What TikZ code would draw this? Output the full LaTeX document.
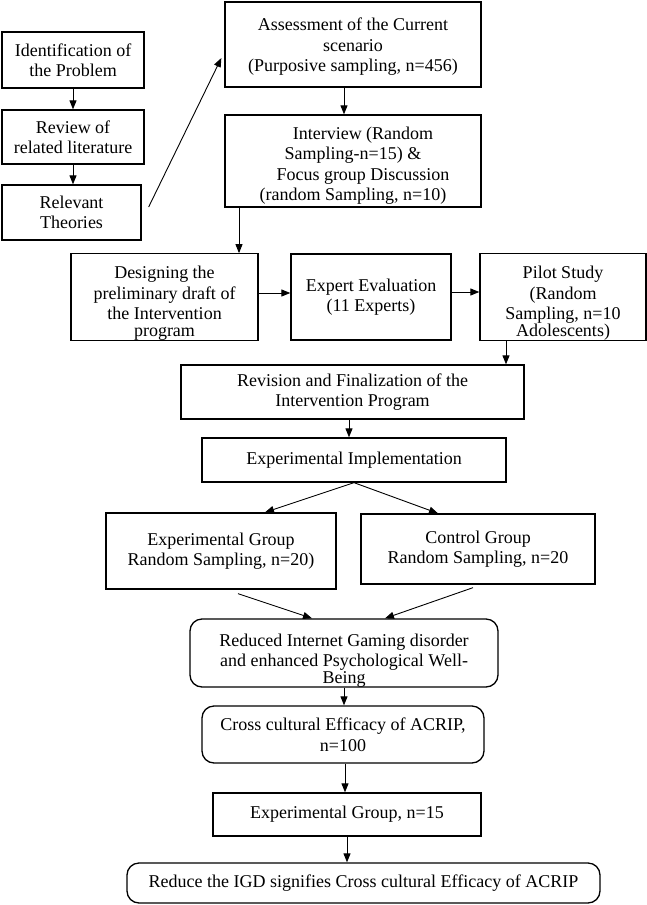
\documentclass[tikz,border=0pt]{standalone}
\usepackage{fontspec}
\setmainfont{Liberation Serif}
\usetikzlibrary{arrows.meta}
\tikzset{
  box/.style={draw, line width=1.3pt, inner sep=0pt, align=center,
    font=\fontsize{18}{20.5}\selectfont},
  rbox/.style={box, rounded corners=12pt},
  arr/.style={line width=0.9pt, -{Triangle[length=9pt,width=7pt]}},
}
\begin{document}
\begin{tikzpicture}[x=1pt,y=-1pt]
\useasboundingbox (0,0) rectangle (647,905);
\node[box, minimum width=142pt, minimum height=56pt] (ident) at (73,60) {Identification of\\the Problem};
\node[box, minimum width=142pt, minimum height=54pt] (review) at (73,137) {Review of\\related literature};
\node[box, minimum width=139pt, minimum height=55pt] (relevant) at (71.5,212.5) {Relevant\\Theories};
\node[box, minimum width=256pt, minimum height=85pt] (assess) at (353,44.5) {\rule{0pt}{17pt}Assessment of the Current\\scenario\\(Purposive sampling, n=456)};
\node[box, minimum width=256pt, minimum height=92pt] (interview) at (353,161) {\rule{0pt}{22pt}\hspace*{20pt}Interview (Random\\Sampling-n=15) \&\\\hspace*{20pt}Focus group Discussion\\(random Sampling, n=10)};
\node[box, minimum width=187pt, minimum height=86pt] (design) at (164.5,297) {\rule{0pt}{25pt}Designing the\\preliminary draft of\\the Intervention\\[-4pt]program};
\node[box, minimum width=160pt, minimum height=86pt] (expert) at (371,297) {Expert Evaluation\\(11 Experts)};
\node[box, minimum width=166pt, minimum height=86pt] (pilot) at (563,297) {\rule{0pt}{25pt}Pilot Study\\(Random\\Sampling, n=10\\[-4pt]Adolescents)};
\node[box, minimum width=343pt, minimum height=54pt] (revision) at (352.5,392) {Revision and Finalization of the\\Intervention Program};
\node[box, minimum width=304pt, minimum height=44pt] (impl) at (354,460) {Experimental Implementation};
\node[box, minimum width=230pt, minimum height=76pt] (expgrp) at (221,551) {Experimental Group\\Random Sampling, n=20)};
\node[box, minimum width=234pt, minimum height=70pt] (control) at (478,549) {Control Group\\Random Sampling, n=20};
\node[rbox, minimum width=308pt, minimum height=68pt] (reduced) at (344,653) {\rule{0pt}{27pt}Reduced Internet Gaming disorder\\and enhanced Psychological Well-\\[-4pt]Being};
\node[rbox, minimum width=282pt, minimum height=57pt] (cross) at (343,734.5) {Cross cultural Efficacy of ACRIP,\\n=100};
\node[box, minimum width=268pt, minimum height=43pt] (exp15) at (347,814.5) {Experimental Group, n=15};
\node[rbox, minimum width=473pt, minimum height=40pt] (igd) at (363.5,883) {Reduce the IGD signifies Cross cultural Efficacy of ACRIP};

\draw[arr] (ident.south) -- (ident.south |- review.north);
\draw[arr] (review.south) -- (review.south |- relevant.north);
\draw[arr] ([xshift=7pt,yshift=5.5pt]relevant.east) -- ([xshift=-3pt,yshift=-13.5pt]assess.west);
\draw[arr] ([xshift=-9pt]assess.south) -- ([xshift=-9pt]interview.north);
\draw[arr] ([xshift=-114pt]interview.south) -- ([xshift=-114pt]interview.south |- design.north);
\draw[arr] ([yshift=4pt]design.east) -- ([yshift=4pt]design.east -| expert.west);
\draw[arr] ([yshift=5pt]expert.east) -- ([yshift=5pt]expert.east -| pilot.west);
\draw[arr] ([xshift=-57pt]pilot.south) -- ([xshift=-57pt]pilot.south |- revision.north);
\draw[arr] ([xshift=-3.5pt]revision.south) -- ([xshift=-3.5pt]revision.south |- impl.north);
\draw[arr] (impl.south) -- ([xshift=44pt]expgrp.north);
\draw[arr] (impl.south) -- ([xshift=-40pt]control.north);
\draw[arr] ([xshift=17pt,yshift=-4pt]expgrp.south) -- ([xshift=-32pt]reduced.north);
\draw[arr] ([xshift=-5pt,yshift=-3pt]control.south) -- ([xshift=41pt]reduced.north);
\draw[arr] (reduced.south) -- (reduced.south |- cross.north);
\draw[arr] ([xshift=2pt]cross.south) -- ([xshift=2pt]cross.south |- exp15.north);
\draw[arr] (exp15.south) -- (exp15.south |- igd.north);
\end{tikzpicture}
\end{document}
